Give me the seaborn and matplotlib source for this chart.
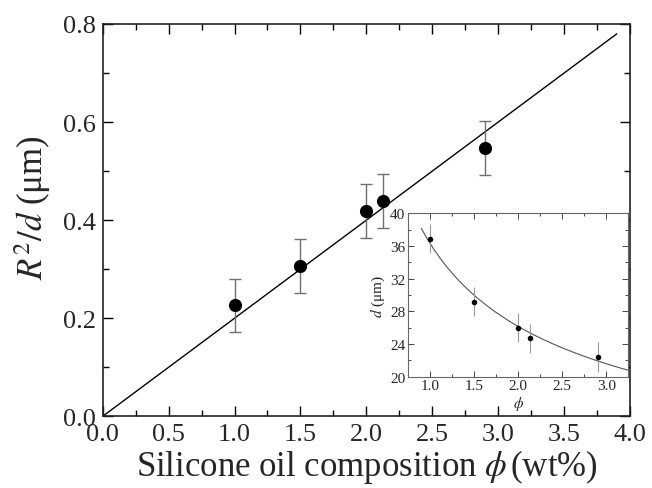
import numpy as np
import pandas as pd
import matplotlib
matplotlib.use("Agg")
import matplotlib.pyplot as plt
from matplotlib.ticker import MultipleLocator, FormatStrFormatter
import seaborn as sns

# Main panel: R^2/d versus silicone oil content
phi = [1.0, 1.5, 2.0, 2.13, 2.9]
r2_over_d = [0.226, 0.307, 0.419, 0.439, 0.547]
r2_over_d_err = [0.055, 0.055, 0.055, 0.055, 0.055]
slope = 0.2          # linear fit through the origin
fit_x_max = 3.9

# Inset: droplet spacing d versus phi
d_um = [36.9, 29.2, 26.0, 24.7, 22.4]
d_err = [1.8, 1.8, 1.8, 1.8, 1.8]
d_amp = 36.3         # power-law fit d = A * phi^(-n)
d_exp = 0.473
inset_fit_range = (0.9, 3.25)

sns.set_style("ticks")
plt.rcParams["font.family"] = ["Liberation Serif", "DejaVu Serif"]
plt.rcParams["mathtext.fontset"] = "stix"
plt.rcParams["xtick.direction"] = "in"
plt.rcParams["ytick.direction"] = "in"

fig = plt.figure(figsize=(6.52, 4.89), dpi=100)
ax = fig.add_axes([0.1575, 0.1466, 0.9663 - 0.1575, 0.9489 - 0.1466])

main_df = pd.DataFrame({"phi": phi, "val": r2_over_d})
xs = np.linspace(0, fit_x_max, 50)
sns.lineplot(x=xs, y=slope * xs, ax=ax, color="black", linewidth=1.0)
ax.errorbar(phi, r2_over_d, yerr=r2_over_d_err, fmt="none", ecolor="#707070",
            elinewidth=1.0, capsize=4, capthick=1.0, zorder=2)
sns.scatterplot(data=main_df, x="phi", y="val", ax=ax, color="black", s=90,
                edgecolor="black", linewidth=0, zorder=3)

ax.set_xlim(0, 4.0)
ax.set_ylim(0, 0.8)
ax.xaxis.set_major_locator(MultipleLocator(0.5))
ax.xaxis.set_minor_locator(MultipleLocator(0.25))
ax.yaxis.set_major_locator(MultipleLocator(0.2))
ax.yaxis.set_minor_locator(MultipleLocator(0.1))
ax.xaxis.set_major_formatter(FormatStrFormatter("%.1f"))
ax.yaxis.set_major_formatter(FormatStrFormatter("%.1f"))
ax.tick_params(which="both", top=True, right=True, labelsize=19, width=1.0,
               color="black")
ax.tick_params(axis="x", which="major", pad=5)
ax.tick_params(axis="y", which="major", pad=5)
ax.tick_params(which="major", length=7)
ax.tick_params(which="minor", length=4)
for sp in ax.spines.values():
    sp.set_linewidth(1.2)
    sp.set_color("#222222")
ax.set_xlabel(r"Silicone oil composition $\phi\,$(wt%)", fontsize=25, labelpad=1)
ax.set_ylabel(r"$R^2/d$ (μm)", fontsize=25)
ax.yaxis.set_label_coords(-0.095, 0.535)

# Inset panel
ins = fig.add_axes([0.626, 0.2276, 0.9637 - 0.626, 0.5618 - 0.2276])
inset_df = pd.DataFrame({"phi": phi, "d": d_um})
xf = np.linspace(*inset_fit_range, 80)
sns.lineplot(x=xf, y=d_amp * xf ** (-d_exp), ax=ins, color="#555555", linewidth=0.8)
ins.errorbar(phi, d_um, yerr=d_err, fmt="none", ecolor="#9a9a9a",
             elinewidth=0.8, capsize=0, zorder=2)
sns.scatterplot(data=inset_df, x="phi", y="d", ax=ins, color="black", s=16,
                linewidth=0, zorder=3)
ins.set_xlim(0.75, 3.25)
ins.set_ylim(20, 40)
ins.xaxis.set_major_locator(MultipleLocator(0.5))
ins.xaxis.set_minor_locator(MultipleLocator(0.25))
ins.yaxis.set_major_locator(MultipleLocator(4))
ins.yaxis.set_minor_locator(MultipleLocator(2))
ins.xaxis.set_major_formatter(FormatStrFormatter("%.1f"))
ins.tick_params(which="both", top=True, right=True, labelsize=11, width=0.7,
                color="#444444", pad=2)
ins.tick_params(which="major", length=4)
ins.tick_params(which="minor", length=2.5)
for sp in ins.spines.values():
    sp.set_linewidth(0.8)
    sp.set_color("#666666")
ins.set_xlabel(r"$\phi$", fontsize=11, labelpad=1)
ins.set_ylabel(r"$d$ (μm)", fontsize=11, labelpad=2)

fig.savefig("out.png", dpi=100)
